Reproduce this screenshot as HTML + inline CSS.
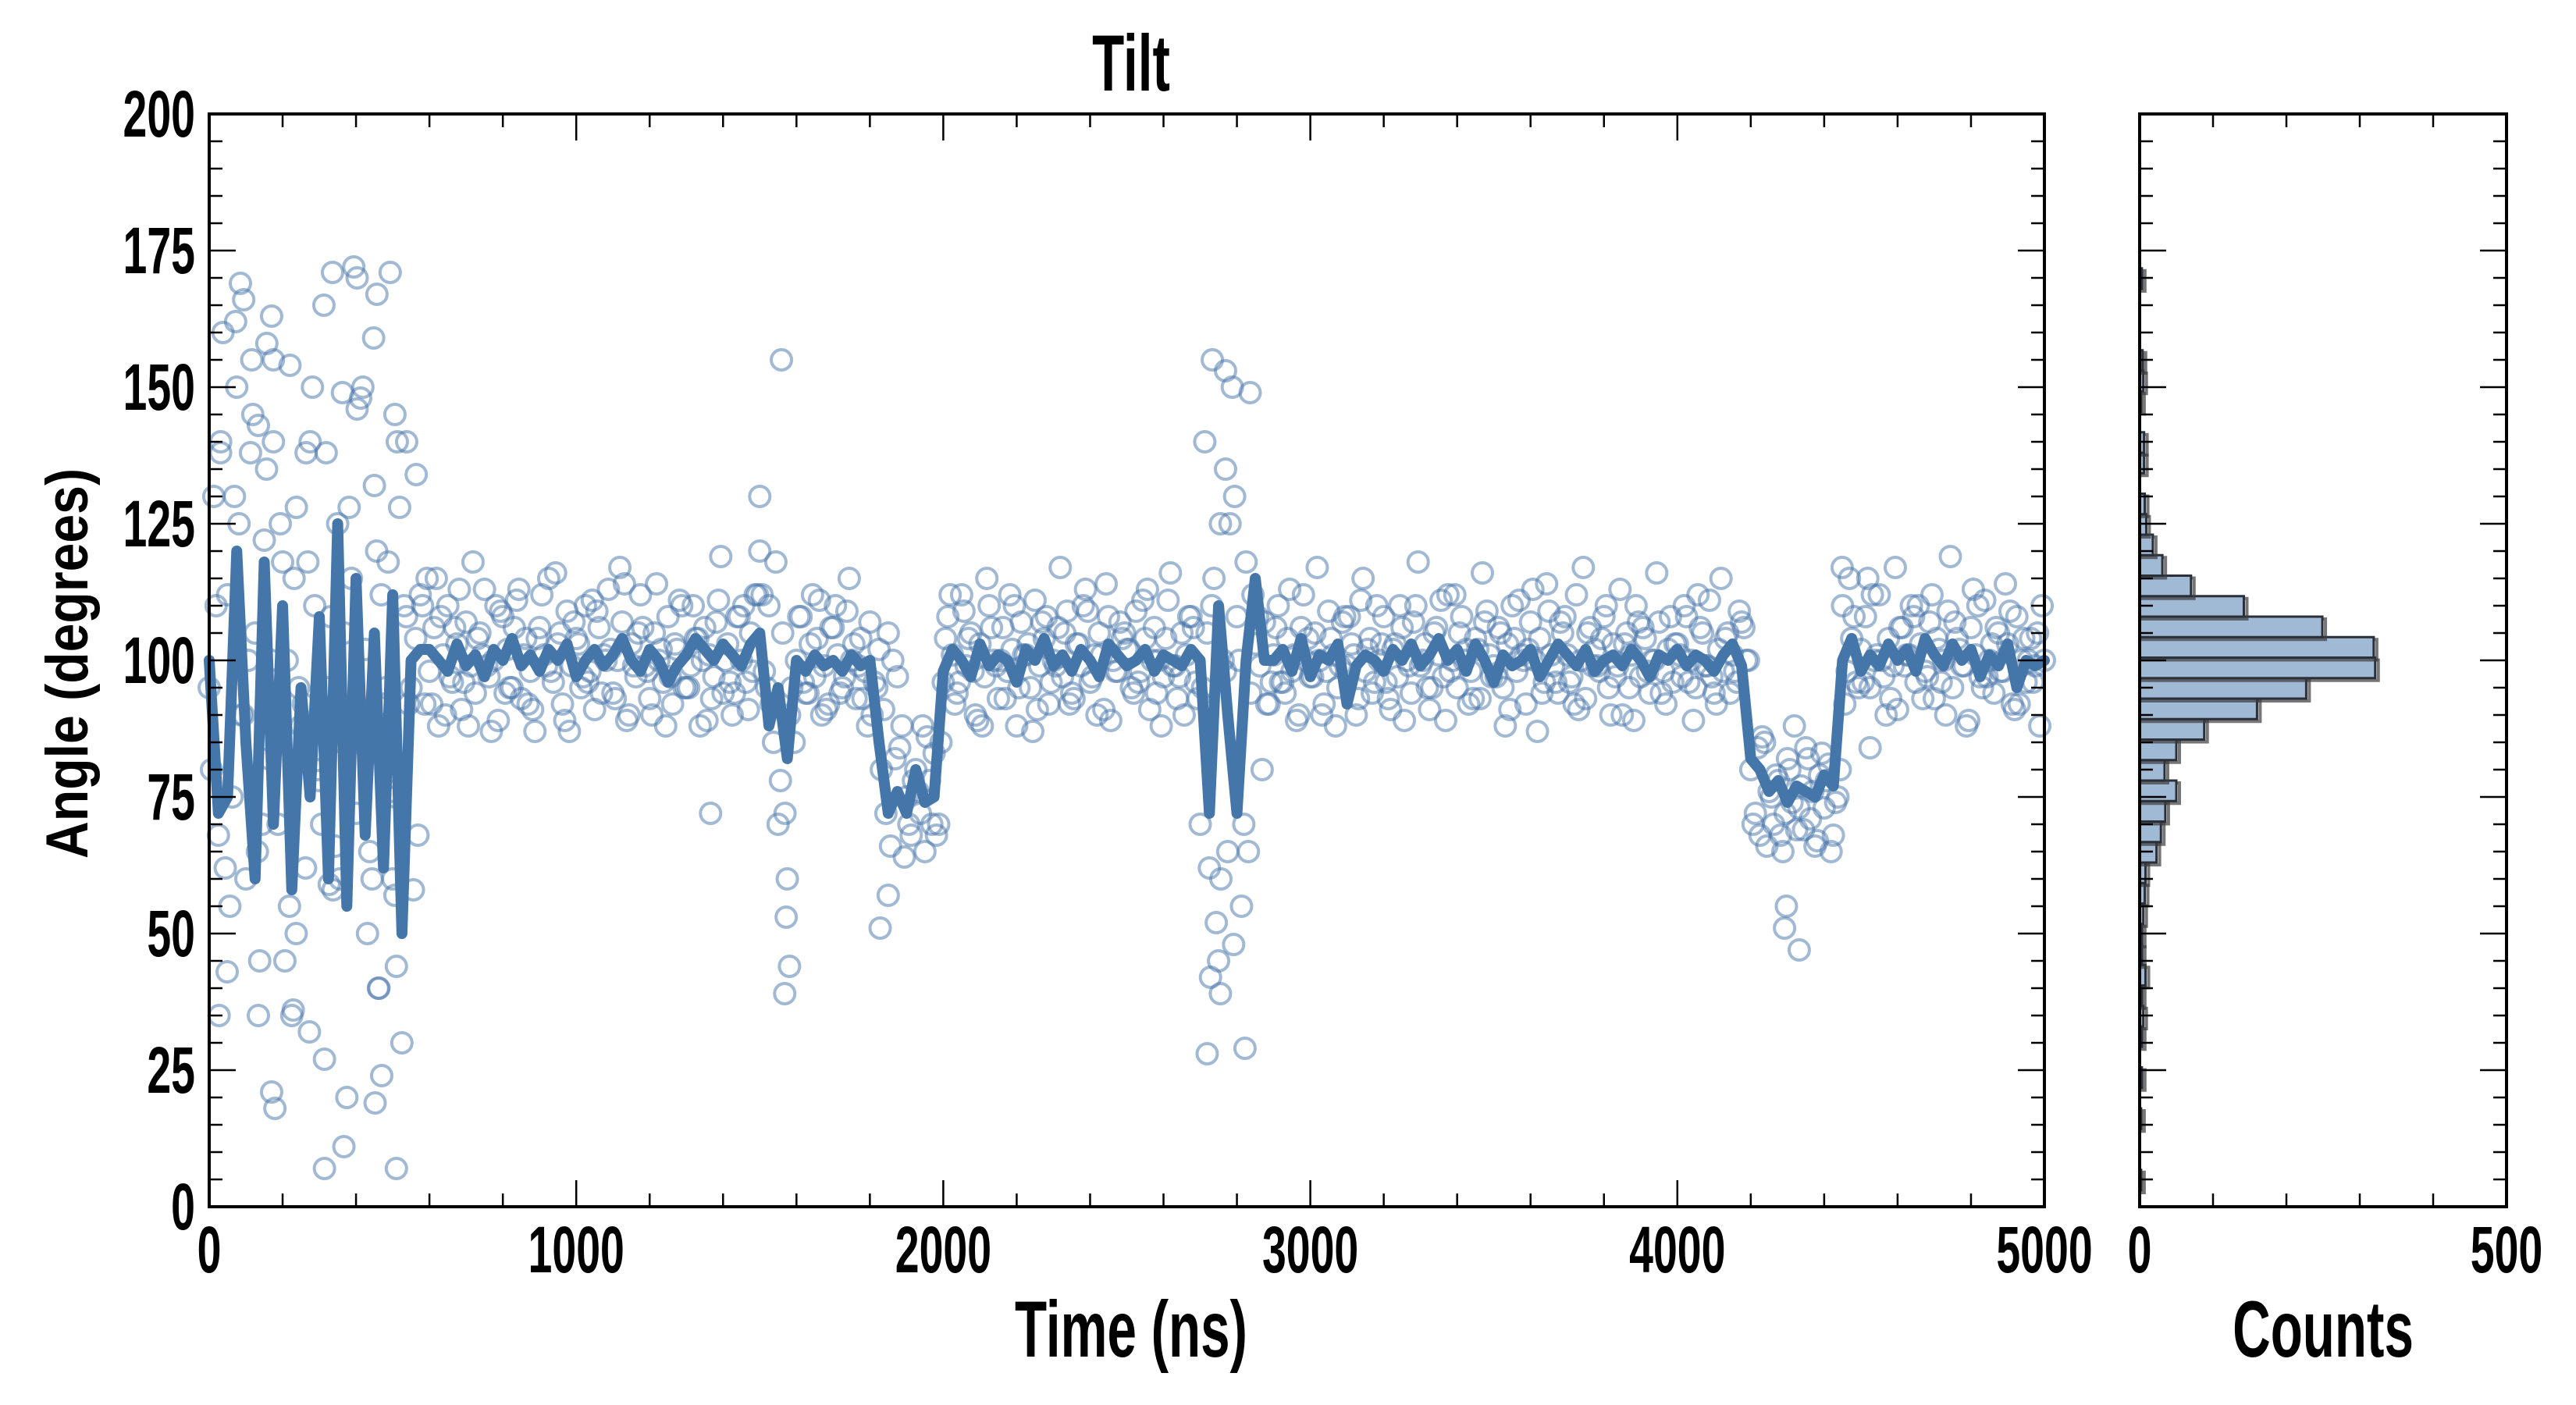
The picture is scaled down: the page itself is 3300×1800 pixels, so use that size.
<!DOCTYPE html>
<html><head><meta charset="utf-8"><style>
html,body{margin:0;padding:0;background:#fff;}
svg{display:block;}
text{font-family:"Liberation Sans",sans-serif;font-weight:bold;fill:#000;}
</style></head>
<body>
<svg id="chart" width="3300" height="1800" viewBox="0 0 3300 1800" xmlns="http://www.w3.org/2000/svg">
<g id="scatter"></g>
<g id="line"></g>
<g id="hist"></g>
<g id="axes"></g>
<g id="labels"></g>
</svg>
<script>
// ---- data ----
const lineStart = 0;
const lineStep = 25;
const lineValues = [100,72,75,120,85,60,118,70,110,58,95,75,108,60,125,55,115,68,105,62,112,50,100,102,
102,100,98,103,99,101,97,102,100,104,99,101,98,102,100,103,97,100,102,99,101,104,100,98,102,100,96,99,101,104,102,100,103,101,99,103,
105,88,95,82,
100,98,101,99,100,98,101,99,
100,85,72,76,72,80,74,75,
98,102,100,97,103,99,101,100,96,102,100,104,99,101,98,102,100,97,103,101,99,100,102,98,101,100,99,102,
100,72,110,90,72,100,115,100,
100,102,98,104,97,101,100,103,92,99,101,100,98,102,100,103,99,101,104,100,102,98,103,100,96,101,99,100,102,97,100,103,101,99,102,98,100,101,99,102,100,97,101,100,102,99,101,100,98,101,103,99,
82,80,76,78,74,77,76,75,79,77,
100,
104,98,101,99,103,100,102,98,104,101,99,103,100,102,97,101,99,103,95,100,99,
100];
const scatterStart = 0;
const scatterStep = 12.5;
const scatterValues = [
95,130,68,160,112,75,150,90,60,138,105,45,122,82,155,70,118,100,35,128,88,62,140,110,78,165,95,58,125,85,20,115,72,148,102,65,132,40,92,118,
60,140,30,108,95,104,112,92,98,106,88,101,110,96,103,91,107,99,94,105,113,97,100,89,108,102,95,111,93,104,98,87,106,101,115,96,103,92,109,99,
104,95,110,98,91,106,101,113,94,100,107,89,103,97,112,99,93,105,100,96,108,92,102,110,95,99,104,88,106,101,97,111,94,103,90,108,100,96,105,112,
120,98,110,85,70,105,60,95,100,108,94,103,97,111,99,92,106,101,95,109,100,93,104,98,107,96,102,91,105,100,97,88,75,68,80,72,65,78,83,70,
96,108,101,94,112,99,105,90,103,97,110,100,93,106,98,102,88,107,101,95,111,99,104,92,100,106,97,109,94,103,99,113,96,101,105,91,108,100,98,104,
102,95,109,98,104,91,106,100,97,111,99,93,105,101,108,96,70,140,62,115,45,100,65,150,108,55,118,94,103,99,107,92,101,110,96,104,98,89,106,100,
97,105,100,92,109,101,95,107,99,103,90,111,98,104,96,100,108,93,102,97,106,100,94,110,99,103,91,105,101,97,112,100,95,108,102,98,104,93,107,101,
99,106,95,103,110,98,101,92,107,100,104,96,109,99,94,105,101,97,112,100,93,106,102,98,108,95,103,99,90,105,101,110,97,104,94,100,107,98,102,96,
103,97,108,100,95,106,99,111,94,102,98,105,101,96,107,100,80,72,68,85,76,70,78,65,82,74,69,77,84,71,66,79,73,81,68,75,110,98,104,96,
102,108,95,100,112,97,104,99,91,106,101,110,96,103,98,107,93,102,100,109,95,104,99,88,106,101,97,111,100,94,105,98,103,92,108,100,96,104,99,88,100];
const scatter2Start = 6.25;
const scatter2Step = 25;
const scatter2Values = [
80,140,55,125,100,65,135,88,45,115,92,150,70,108,60,128,85,50,120,95,75,110,58,110,
92,108,97,113,88,104,99,110,94,106,101,91,112,98,105,87,103,96,109,100,93,114,99,106,90,102,97,111,95,104,89,107,100,94,110,98,
112,92,78,90,
108,94,104,91,110,97,103,93,
90,80,66,84,70,76,86,68,
104,92,109,98,88,106,100,112,95,103,91,108,99,105,93,110,97,101,89,107,102,96,113,94,104,99,90,106,
95,110,60,125,100,65,108,92,
106,94,101,112,97,90,104,99,108,93,102,110,96,103,89,107,100,95,111,98,105,92,102,109,97,88,104,100,113,94,101,107,96,91,105,99,110,97,103,89,106,100,94,108,101,96,112,99,92,104,98,106,
70,86,75,68,80,73,82,67,78,74,
92,
108,96,112,100,93,106,101,110,97,104,90,107,99,113,95,103,98,109,92,100,105];
const scatter3Start = 18.75;
const scatter3Step = 25;
const scatter3Values = [
110,62,130,90,145,70,100,125,55,95,118,80,138,66,105,88,150,60,112,76,128,92,68,115,
115,90,106,96,118,101,87,109,95,113,92,104,99,116,89,107,97,111,94,102,117,90,105,98,114,88,103,95,110,100,93,119,96,108,91,112,
95,118,72,85,
96,112,90,106,94,115,99,88,
95,72,82,64,78,88,70,85,
112,96,104,89,115,99,93,110,101,87,107,96,117,92,103,109,90,114,98,105,94,111,100,88,116,97,108,93,
105,52,98,130,70,112,80,96,
96,113,90,104,117,98,88,108,101,115,94,103,91,110,99,118,95,106,89,112,100,93,116,97,105,91,111,102,87,114,96,108,92,117,99,104,90,113,95,107,98,116,92,103,110,89,105,97,115,94,109,100,
84,66,79,72,88,69,76,83,65,80,
115,
95,115,101,90,117,99,108,93,112,96,119,102,89,110,97,106,114,91,104,96,110];
const outlierTimes = [85,94,72,170,157,116,220,394,493,457,448,403,336,363,403,506,538,564,175,264,134,31,1559,1500,2733,2769,2836,2769,2755,49,27,170,179,314,367,510,452,470,314,273,229,461,510,134,237,506,327,1568,1581,1572,2755,2728,2719,2822,2791,1828,1850,4297,4292,4332,4525,1366,4449];
const outlierValues = [169,166,162,163,158,155,154,172,171,167,159,170,171,149,146,145,140,134,140,138,143,138,155,130,155,153,149,135,125,43,35,21,18,7,11,7,19,24,27,32,36,40,44,35,50,57,59,39,44,53,39,42,28,29,48,51,57,55,51,47,84,72,117];
const histBinStart = 3.0;
const histBinWidth = 3.75;
const histCounts = [2,0,0,2,0,3,0,3,5,3,8,3,3,5,7,8,23,29,35,50,34,50,88,160,227,321,319,249,142,70,31,18,9,7,0,6,6,0,2,5,4,0,0,0,3];
const yTicks = [0,25,50,75,100,125,150,175,200];
const xTicks = [0,1000,2000,3000,4000,5000];
const countTicks = [0,500];

// ---- geometry ----
const L=268,R=2619,T=146,B=1546, HL=2741, HR=3211;
const X=t=>L+t/5000*(R-L);
const Y=v=>B-v/200*(B-T);
const HX=c=>HL+c/500*(HR-HL);
const NS="http://www.w3.org/2000/svg";
function mk(tag,attrs,parent){const e=document.createElementNS(NS,tag);for(const k in attrs)e.setAttribute(k,attrs[k]);parent.appendChild(e);return e;}
const CSTROKE='rgba(70,115,170,0.5)';

// scatter
const sg=document.getElementById('scatter');
scatterValues.forEach((v,i)=>{
  const c=mk('circle',{cx:X(scatterStart+i*scatterStep),cy:Y(v),r:13,fill:'none',stroke:CSTROKE,'stroke-width':4},sg);
  
  
});
scatter2Values.forEach((v,i)=>{
  const c=mk('circle',{cx:X(scatter2Start+i*scatter2Step),cy:Y(v),r:13,fill:'none',stroke:CSTROKE,'stroke-width':4},sg);
  
  
});
scatter3Values.forEach((v,i)=>{
  const c=mk('circle',{cx:X(scatter3Start+i*scatter3Step),cy:Y(v),r:13,fill:'none',stroke:CSTROKE,'stroke-width':4},sg);
  
  
});
outlierValues.forEach((v,i)=>{
  const c=mk('circle',{cx:X(outlierTimes[i]),cy:Y(v),r:13,fill:'none',stroke:CSTROKE,'stroke-width':4},sg);
  
  
});
// line
const lg=document.getElementById('line');
const pts=lineValues.map((v,i)=>X(lineStart+i*lineStep).toFixed(1)+','+Y(v).toFixed(1)).join(' ');
const pl=mk('polyline',{points:pts,fill:'none',stroke:'#4576a9','stroke-width':14,'stroke-linejoin':'round','stroke-linecap':'round'},lg);


// histogram
const hg=document.getElementById('hist');
histCounts.forEach((c,i)=>{
  if(c<=0)return;
  const lo=histBinStart+i*histBinWidth, hi=lo+histBinWidth;
  mk('rect',{x:HL+4,y:Y(hi)+3,width:HX(c)-HL,height:Y(lo)-Y(hi),fill:'none',stroke:'rgba(60,60,60,0.7)','stroke-width':4},hg);
  const r=mk('rect',{x:HL,y:Y(hi),width:HX(c)-HL,height:Y(lo)-Y(hi),fill:'#a0b9d5',stroke:'#2a2f38','stroke-width':3},hg);
  
  
});
// axes
const ag=document.getElementById('axes');
function frame(x0,x1){mk('rect',{x:x0,y:T,width:x1-x0,height:B-T,fill:'none',stroke:'#000','stroke-width':4},ag);}
frame(L,R);frame(HL,HR);
for(let v=0;v<=200;v+=5){
  const len=(v%25===0)?34:17;
  [[L,1],[R,-1],[HL,1],[HR,-1]].forEach(([x,d])=>mk('line',{x1:x,x2:x+d*len,y1:Y(v),y2:Y(v),stroke:'#000','stroke-width':2.5},ag));
}
for(let t=0;t<=5000;t+=200){
  const len=(t%1000===0)?34:17;
  mk('line',{x1:X(t),x2:X(t),y1:B,y2:B-len,stroke:'#000','stroke-width':2.5},ag);
  mk('line',{x1:X(t),x2:X(t),y1:T,y2:T+len,stroke:'#000','stroke-width':2.5},ag);
}
for(let c=0;c<=500;c+=100){
  mk('line',{x1:HX(c),x2:HX(c),y1:B,y2:B-17,stroke:'#000','stroke-width':2.5},ag);
  mk('line',{x1:HX(c),x2:HX(c),y1:T,y2:T+17,stroke:'#000','stroke-width':2.5},ag);
}
// labels
const lb=document.getElementById('labels');
function cond(txt,x,y,size,anchor,name){
  const t=mk('text',{x:x/0.66,y:y,'font-size':size,'text-anchor':anchor,transform:'scale(0.66,1)'},lb);
  t.textContent=txt;
  
  
  return t;
}
yTicks.forEach(v=>cond(String(v),250,Y(v)+29,84,'end','y-tick-label'));
xTicks.forEach(t=>cond(String(t),X(t),1630,84,'middle','x-tick-label'));
countTicks.forEach(c=>cond(String(c),HX(c),1630,84,'middle','count-tick-label'));
cond('Tilt',1449,116,102,'middle','chart-title');
cond('Time (ns)',1449,1738,102,'middle','x-axis-title');
cond('Counts',2976,1738,102,'middle','hist-x-axis-title');
const yl=mk('text',{x:0,y:0,'font-size':76,'text-anchor':'middle',transform:'translate(112,850) rotate(-90)',textLength:500,lengthAdjust:'spacingAndGlyphs'},lb);
yl.textContent='Angle (degrees)';


</script>
</body></html>
